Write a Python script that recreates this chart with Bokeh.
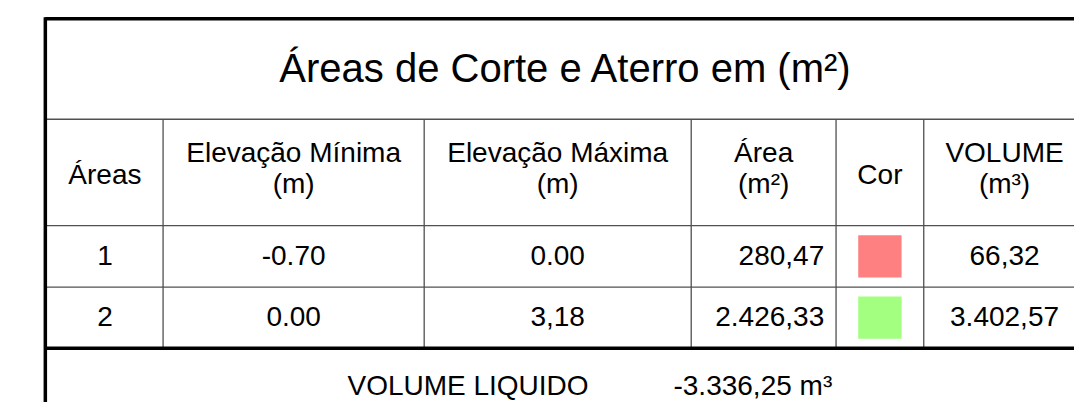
from bokeh.plotting import figure
from bokeh.models import Range1d, ColumnDataSource
from bokeh.core.properties import value
from bokeh.embed import file_html
from bokeh.resources import INLINE

# ---------------- data ----------------
title = "Áreas de Corte e Aterro em (m²)"
header_line1 = ["Áreas", "Elevação Mínima", "Elevação Máxima", "Área", "Cor", "VOLUME"]
header_line2 = ["", "(m)", "(m)", "(m²)", "", "(m³)"]
areas = ["1", "2"]
elev_min = ["-0.70", "0.00"]
elev_max = ["0.00", "3,18"]
area_m2 = ["280,47", "2.426,33"]
cores = ["#FF8080", "#A2FF80"]
volumes = ["66,32", "3.402,57"]
liquido_label = "VOLUME LIQUIDO"
liquido_value = "-3.336,25 m³"

# ---------------- layout ----------------
W, H = 1074, 402          # canvas size in screen px
VW, VH = 1090, 418        # drawing coordinate space
SY = H / VH
FONT = value("Liberation Sans")
FS_TITLE, FS_BODY = 40, 28

def base(y, fs):
    # convert a desired baseline to the anchor used by the renderer
    return y - 0.39 * fs / SY

col_edges = [47, 165, 430, 701, 848, 937, 1101]
y_top, y_title, y_head, y_row1, y_row2 = 19, 123.5, 234, 298, 361.5
row_edges = [y_head, y_row1, y_row2]

p = figure(width=W, height=H, output_backend="svg", toolbar_location=None,
           x_range=Range1d(0, VW), y_range=Range1d(VH, 0), min_border=0)
p.axis.visible = False
p.grid.visible = False
p.outline_line_color = None
p.background_fill_color = "white"
p.border_fill_color = "white"

L, R = col_edges[0], col_edges[-1]

# thin lines
tx0, ty0, tx1, ty1 = [], [], [], []
for y in [y_title, y_head, y_row1]:
    tx0.append(L); tx1.append(R); ty0.append(y); ty1.append(y)
for x in col_edges[1:-1]:
    tx0.append(x); tx1.append(x); ty0.append(y_title); ty1.append(y_row2)
p.segment(tx0, ty0, tx1, ty1, line_color="#505050", line_width=1.3)

# thick lines
p.segment([L - 1.5, L - 1.5, L - 1.5], [y_top, y_row2, y_top - 1.5],
          [R, R, L - 1.5], [y_top, y_row2, VH + 10],
          line_color="black", line_width=3.5)

# title
p.text([(L + R) / 2], [base(86, FS_TITLE)], text=[title], text_font=FONT,
       text_font_size=f"{FS_TITLE}px", text_align="center",
       text_baseline="alphabetic", text_color="black")

# headers
centers = [(col_edges[i] + col_edges[i + 1]) / 2 for i in range(len(col_edges) - 1)]
hx, hy, ht = [], [], []
for cx, t1, t2 in zip(centers, header_line1, header_line2):
    if t2:
        hx += [cx, cx]; hy += [base(169, FS_BODY), base(202, FS_BODY)]; ht += [t1, t2]
    else:
        hx.append(cx); hy.append(base(192, FS_BODY)); ht.append(t1)
p.text(hx, hy, text=ht, text_font=FONT, text_font_size=f"{FS_BODY}px",
       text_align="center", text_baseline="alphabetic", text_color="black")

# rows
row_mid = [(row_edges[i] + row_edges[i + 1]) / 2 for i in range(2)]
src = ColumnDataSource(dict(
    base=[base(m + 10.5, FS_BODY) for m in row_mid], mid=row_mid,
    areas=areas, emin=elev_min, emax=elev_max, area=area_m2, vol=volumes, cor=cores,
    xa=[centers[0]] * 2, xmin=[centers[1]] * 2, xmax=[centers[2]] * 2,
    xar=[col_edges[4] - 12] * 2, xcor=[centers[4]] * 2, xvol=[centers[5]] * 2))
for xcol, tcol, align in [("xa", "areas", "center"), ("xmin", "emin", "center"),
                          ("xmax", "emax", "center"), ("xar", "area", "right"),
                          ("xvol", "vol", "center")]:
    p.text(x=xcol, y="base", text=tcol, source=src, text_font=FONT,
           text_font_size=f"{FS_BODY}px", text_align=align,
           text_baseline="alphabetic", text_color="black")
p.rect(x="xcor", y="mid", width=44, height=44, source=src, fill_color="cor",
       line_color="cor", line_width=0)

# net volume
p.text([474.5], [base(412, FS_BODY)], text=[liquido_label], text_font=FONT,
       text_font_size=f"{FS_BODY}px", text_align="center",
       text_baseline="alphabetic", text_color="black")
p.text([683], [base(412, FS_BODY)], text=[liquido_value], text_font=FONT,
       text_font_size=f"{FS_BODY}px", text_align="left",
       text_baseline="alphabetic", text_color="black")

open("out.html", "w").write(file_html(p, INLINE))
